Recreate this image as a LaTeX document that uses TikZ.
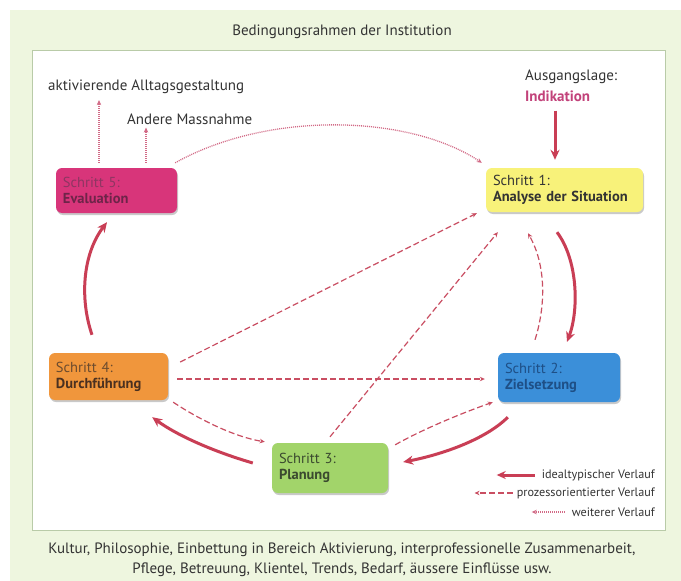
\documentclass[tikz,border=0pt]{standalone}
\usepackage{fontspec}
\setmainfont{PT Sans}
\usetikzlibrary{arrows.meta,shadows}
\definecolor{bgGreen}{HTML}{EEF6DF}
\definecolor{frameGreen}{HTML}{B9CBA8}
\definecolor{arrowRed}{HTML}{C93E55}
\definecolor{procRed}{HTML}{C94E62}
\definecolor{dotRed}{HTML}{D26A86}
\definecolor{indik}{HTML}{C2427A}
\definecolor{boxMag}{HTML}{D8357A}
\definecolor{boxYel}{HTML}{F8F27A}
\definecolor{boxBlue}{HTML}{3B8FD9}
\definecolor{boxGreen}{HTML}{A2D46A}
\definecolor{boxOrange}{HTML}{F0963C}
\definecolor{txtMagA}{HTML}{8E3562}
\definecolor{txtMagB}{HTML}{6E2449}
\definecolor{txtDark}{HTML}{333333}
\definecolor{txtBlue}{HTML}{1E4F86}
\definecolor{txtGreen}{HTML}{3B4A2F}
\definecolor{txtOrA}{HTML}{6B4B2E}
\definecolor{txtOrB}{HTML}{4A3020}
\begin{document}
\begin{tikzpicture}[x=1pt,y=-1pt,
  stepbox/.style={rounded corners=6pt, align=left, inner xsep=7pt, inner ysep=0pt,
    font=\fontsize{14.5}{16}\selectfont,
    drop shadow={shadow xshift=1pt,shadow yshift=-2pt,opacity=0.35,fill=black!60}},
  plain/.style={inner sep=0pt, font=\fontsize{15}{17}\selectfont, text=txtDark},
  ideal/.style={draw=arrowRed, line width=3pt, -{Stealth[length=10pt,width=9pt]}},
  proc/.style={draw=procRed, line width=1.2pt, dash pattern=on 6pt off 3pt, -{Stealth[length=5pt,width=4.5pt]}},
  weit/.style={draw=dotRed, line width=1.3pt, dash pattern=on 1pt off 1pt, -{Stealth[length=5pt,width=4.5pt]}},
  legtxt/.style={inner sep=0pt, anchor=east, font=\fontsize{12.2}{14}\selectfont, text=txtDark}
]
\useasboundingbox (0,0) rectangle (681,581);
% backgrounds
\fill[white] (0,0) rectangle (681,581);
\fill[bgGreen] (10,10) rectangle (681,581);
\draw[frameGreen, line width=0.8pt, fill=white] (32,50) rectangle (665,530);

% title and caption
\node[plain] (title) at (342,32) {Bedingungsrahmen der Institution};
\node[plain, align=center, font=\fontsize{15}{20}\selectfont] (caption) at (342,560)
  {Kultur, Philosophie, Einbettung in Bereich Aktivierung, interprofessionelle Zusammenarbeit,\\
   Pflege, Betreuung, Klientel, Trends, Bedarf, äussere Einflüsse usw.};

% step boxes
\node[stepbox, fill=boxMag, minimum width=121pt, minimum height=45pt, text width=107pt] (s5) at (116.5,190.5)
  {\textcolor{txtMagA}{Schritt 5:}\\\textcolor{txtMagB}{\textbf{Evaluation}}};
\node[stepbox, fill=boxYel, minimum width=157pt, minimum height=44pt, text width=143pt, text=txtDark] (s1) at (564.5,190)
  {Schritt 1:\\\textbf{Analyse der Situation}};
\node[stepbox, fill=boxBlue, minimum width=122pt, minimum height=49pt, text width=108pt, text=txtBlue] (s2) at (559,377.5)
  {Schritt 2:\\\textbf{Zielsetzung}};
\node[stepbox, fill=boxGreen, minimum width=116pt, minimum height=50pt, text width=102pt, text=txtGreen] (s3) at (330,468)
  {Schritt 3:\\\textbf{Planung}};
\node[stepbox, fill=boxOrange, minimum width=119pt, minimum height=47pt, text width=105pt] (s4) at (108.5,376.5)
  {\textcolor{txtOrA}{Schritt 4:}\\\textcolor{txtOrB}{\textbf{Durchführung}}};

% free texts
\node[plain, anchor=west] (akt) at (48,87) {aktivierende Alltagsgestaltung};
\node[plain, anchor=west] (andere) at (127,119) {Andere Massnahme};
\node[plain, anchor=west] (ausg) at (525,77) {Ausgangslage:};
\node[plain, anchor=west, text=indik] (indik) at (525,96) {\textbf{Indikation}};

% idealtypischer Verlauf
\draw[ideal] ([xshift=30pt,yshift=-9pt]indik.south west) -- ([xshift=-9.5pt,yshift=8pt]s1.north);
\draw[ideal] ([xshift=-7.5pt,yshift=-20pt]s1.south) .. controls (578,260) and (579,310) .. ([xshift=8pt,yshift=11pt]s2.north);
\draw[ideal] ([xshift=10pt,yshift=-15pt]s2.south west) .. controls (485,440) and (440,455) .. ([xshift=15pt,yshift=6pt]s3.east);
\draw[ideal] ([xshift=-19pt,yshift=5pt]s3.west) .. controls (215,452) and (178,436) .. ([xshift=-16pt,yshift=-17pt]s4.south east);
\draw[ideal] ([xshift=-16.5pt,yshift=18pt]s4.north) .. controls (80,300) and (82,255) .. ([xshift=-9.5pt,yshift=-9pt]s5.south);

% prozessorientierter Verlauf
\draw[proc] ([xshift=12pt,yshift=14.5pt]s4.east) -- ([xshift=-9pt,yshift=-1pt]s1.south west);
\draw[proc] ([xshift=9pt,yshift=-2.5pt]s4.east) -- ([xshift=-13pt,yshift=-1.5pt]s2.west);
\draw[proc] ([yshift=6pt]s3.north) -- ([xshift=12pt,yshift=-20pt]s1.south west);
\draw[proc] ([xshift=-24pt,yshift=13pt]s2.north) .. controls (546,305) and (546,265) .. ([xshift=-36.5pt,yshift=-21pt]s1.south);
\draw[proc] ([xshift=5pt,yshift=-2pt]s4.south east) .. controls (200,420) and (235,437) .. ([xshift=-7pt,yshift=1pt]s3.north west);
\draw[proc] ([xshift=7pt,yshift=-2pt]s3.north east) .. controls (425,428) and (465,412) .. ([xshift=-5pt]s2.south west);

% weiterer Verlauf
\draw[weit] ([xshift=-17.5pt,yshift=5pt]s5.north) -- ([xshift=51pt,yshift=-6pt]akt.south west);
\draw[weit] ([xshift=29.5pt,yshift=5pt]s5.north) -- ([xshift=19pt,yshift=-3pt]andere.south west);
\draw[weit] ([xshift=-2pt,yshift=5pt]s5.north east) .. controls (270,110) and (410,115) .. ([xshift=-4pt,yshift=5pt]s1.north west);

% legend
\node[legtxt] (l1) at (655,475) {idealtypischer Verlauf};
\node[legtxt] (l2) at (655,493) {prozessorientierter Verlauf};
\node[legtxt] (l3) at (655,512) {weiterer Verlauf};
\draw[ideal, -{Stealth[length=9pt,width=8pt]}] ([xshift=-7pt]l1.west) -- ([xshift=-45pt]l1.west);
\draw[proc] ([xshift=-4pt]l2.west) -- ([xshift=-42pt]l2.west);
\draw[weit] ([xshift=-7pt]l3.west) -- ([xshift=-40pt]l3.west);
\end{tikzpicture}
\end{document}
